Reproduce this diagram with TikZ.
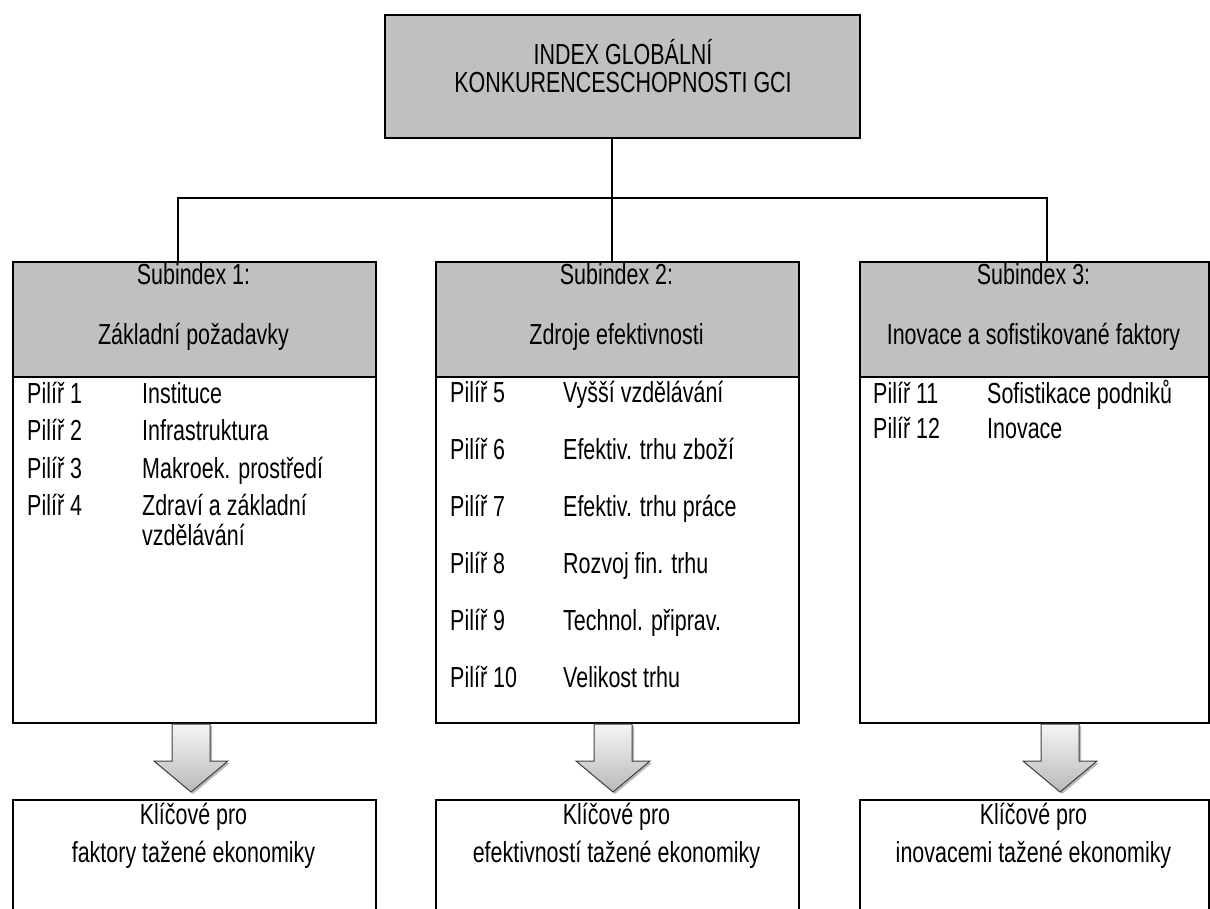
\documentclass[tikz,border=0pt]{standalone}
\usepackage{fontspec}
\setmainfont[FakeStretch=0.74]{Liberation Sans}
\usepackage{tikz}
\usetikzlibrary{positioning,calc}

\definecolor{headgray}{HTML}{C0C0C0}
\tikzset{
  box/.style={draw=black, line width=2.2pt, rectangle, inner sep=0pt, anchor=north west},
  headbox/.style={box, fill=headgray},
  txt/.style={font=\fontsize{29}{32}\selectfont, inner sep=0pt, anchor=base},
  pillar/.style={txt, anchor=base west},
  link/.style={draw=black, line width=2.2pt},
  bigarrow/.style={draw=black!75, line width=1pt, top color=gray!8, bottom color=gray!55},
  arrowshadow/.style={fill=gray!55}
}

\begin{document}
\begin{tikzpicture}[x=1pt, y=-1pt]
    % frame of the page, y runs downward
    \useasboundingbox (0,0) rectangle (1210,909);
    \clip (0,0) rectangle (1210,909);

    % top box
    \node[headbox, minimum width=475pt, minimum height=123pt] (gci) at (384,14) {};
    \node[txt] (gcia) at (623,65) {INDEX GLOBÁLNÍ};
    \node[txt] (gcib) at (623,93) {KONKURENCESCHOPNOSTI GCI};

    % subindex boxes, whole frame first, grey head on top
    \node[box, minimum width=363pt, minimum height=461pt] (sub1) at (12,261) {};
    \node[headbox, minimum width=363pt, minimum height=115pt] (head1) at (12,261) {};
    \node[box, minimum width=363pt, minimum height=461pt] (sub2) at (435,261) {};
    \node[headbox, minimum width=363pt, minimum height=115pt] (head2) at (435,261) {};
    \node[box, minimum width=349pt, minimum height=461pt] (sub3) at (859,261) {};
    \node[headbox, minimum width=349pt, minimum height=115pt] (head3) at (859,261) {};

    % connectors
    \coordinate (hub) at (612,198);
    \coordinate (drop1) at (178,198);
    \coordinate (drop3) at (1047,198);
    \draw[link] (gci.south -| hub) -- (hub) -- (head2.north -| hub);
    \draw[link] (head1.north -| drop1) -- (drop1) -- (drop3) -- (head3.north -| drop3);

    % head texts
    \node[txt] (head1a) at (193.5,285) {Subindex 1:};
    \node[txt] (head1b) at (193.5,344) {Základní požadavky};
    \node[txt] (head2a) at (616.5,285) {Subindex 2:};
    \node[txt] (head2b) at (616.5,344) {Zdroje efektivnosti};
    \node[txt] (head3a) at (1033.5,285) {Subindex 3:};
    \node[txt] (head3b) at (1033.5,344) {Inovace a sofistikované faktory};

    % pillars of subindex 1
    \node[pillar] (p1) at (27,403) {Pilíř 1};
    \node[pillar] (t1) at (142,403) {Instituce};
    \node[pillar] (p2) at (27,440.5) {Pilíř 2};
    \node[pillar] (t2) at (142,440.5) {Infrastruktura};
    \node[pillar] (p3) at (27,478) {Pilíř 3};
    \node[pillar] (t3) at (142,478) {Makroek. prostředí};
    \node[pillar] (p4) at (27,515.5) {Pilíř 4};
    \node[pillar] (t4) at (142,515.5) {Zdraví a základní};
    \node[pillar] (t4b) at (142,545) {vzdělávání};

    % pillars of subindex 2
    \node[pillar] (p5) at (450,402) {Pilíř 5};
    \node[pillar] (t5) at (563,402) {Vyšší vzdělávání};
    \node[pillar] (p6) at (450,459) {Pilíř 6};
    \node[pillar] (t6) at (563,459) {Efektiv. trhu zboží};
    \node[pillar] (p7) at (450,516) {Pilíř 7};
    \node[pillar] (t7) at (563,516) {Efektiv. trhu práce};
    \node[pillar] (p8) at (450,573) {Pilíř 8};
    \node[pillar] (t8) at (563,573) {Rozvoj fin. trhu};
    \node[pillar] (p9) at (450,630) {Pilíř 9};
    \node[pillar] (t9) at (563,630) {Technol. připrav.};
    \node[pillar] (p10) at (450,687) {Pilíř 10};
    \node[pillar] (t10) at (563,687) {Velikost trhu};

    % pillars of subindex 3
    \node[pillar] (p11) at (873,403) {Pilíř 11};
    \node[pillar] (t11) at (987,403) {Sofistikace podniků};
    \node[pillar] (p12) at (873,438.5) {Pilíř 12};
    \node[pillar] (t12) at (987,438.5) {Inovace};

    % block arrows down
    \foreach \cx in {191,613,1060} {
        \fill[arrowshadow] (\cx-17,726) -- (\cx+21,726) -- (\cx+21,763) -- (\cx+39,763) -- (\cx+2,794) -- (\cx-35,763) -- (\cx-17,763) -- cycle;
        \draw[bigarrow] (\cx-19,724) -- (\cx+19,724) -- (\cx+19,761) -- (\cx+37,761) -- (\cx,792) -- (\cx-37,761) -- (\cx-19,761) -- cycle;
    }

    % key boxes at the bottom
    \node[box, minimum width=363pt, minimum height=130pt] (key1) at (12,799) {};
    \node[box, minimum width=363pt, minimum height=130pt] (key2) at (435,799) {};
    \node[box, minimum width=349pt, minimum height=130pt] (key3) at (859,799) {};
    \node[txt] (key1a) at (193.5,824) {Klíčové pro};
    \node[txt] (key1b) at (193.5,862) {faktory tažené ekonomiky};
    \node[txt] (key2a) at (616.5,824) {Klíčové pro};
    \node[txt] (key2b) at (616.5,862) {efektivností tažené ekonomiky};
    \node[txt] (key3a) at (1033.5,824) {Klíčové pro};
    \node[txt] (key3b) at (1033.5,862) {inovacemi tažené ekonomiky};
\end{tikzpicture}
\end{document}
